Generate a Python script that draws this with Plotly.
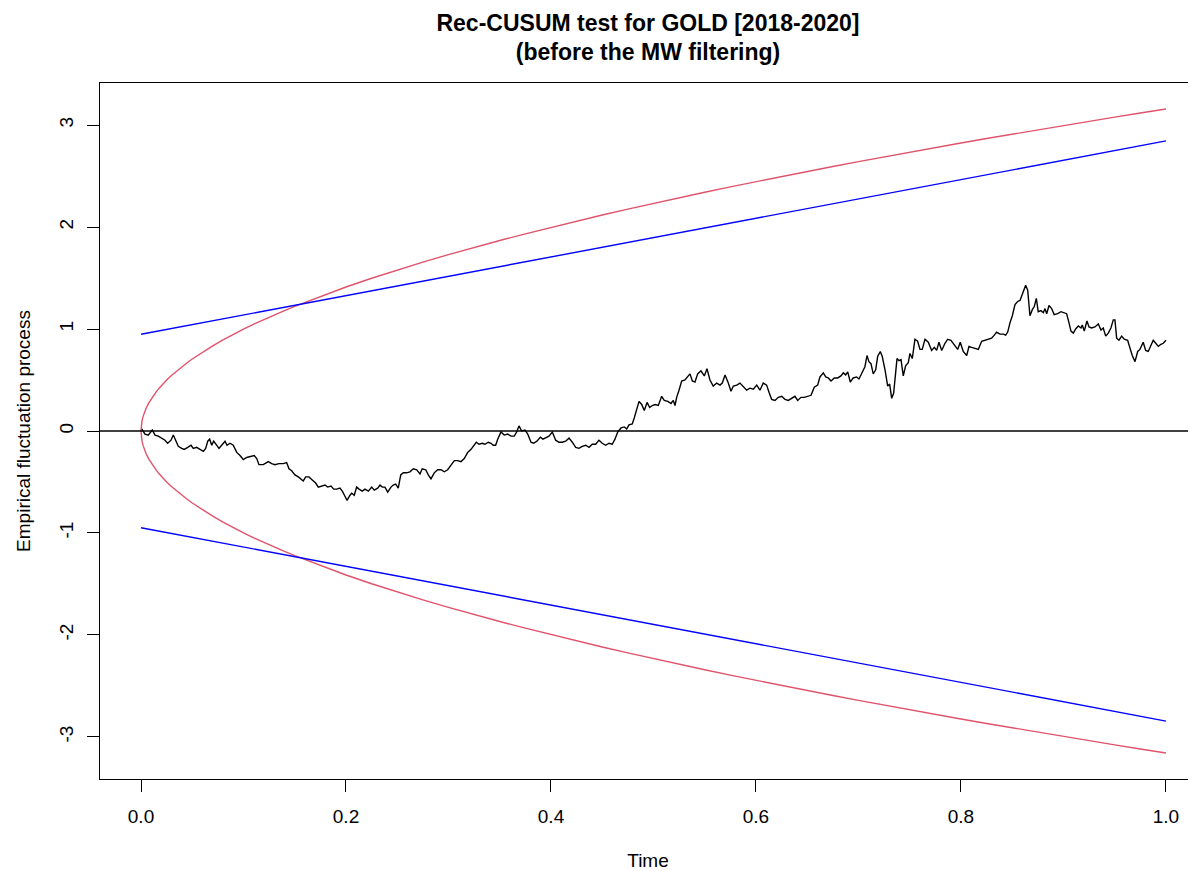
import plotly.graph_objects as go

# ---- data ----
time_pts = [0.0, 0.0007, 0.0039, 0.0071, 0.0110, 0.0137, 0.0169, 0.0202, 0.0234, 0.0260, 0.0293,
            0.0315, 0.0339, 0.0364, 0.0397, 0.0422, 0.0456, 0.0488, 0.0510, 0.0543, 0.0576,
            0.0608, 0.0631, 0.0651, 0.0670, 0.0690, 0.0709, 0.0735, 0.0761, 0.0787, 0.0820,
            0.0839, 0.0868, 0.0900, 0.0934, 0.0966, 0.0998, 0.1031, 0.1063, 0.1105, 0.1129,
            0.1151, 0.1193, 0.1242, 0.1275, 0.1307, 0.1346, 0.1388, 0.1421, 0.1444, 0.1470,
            0.1502, 0.1535, 0.1561, 0.1583, 0.1607,
            0.1639, 0.1671, 0.1704, 0.1730, 0.1763, 0.1795, 0.1821, 0.1854, 0.1880, 0.1909,
            0.1941, 0.1964, 0.1990, 0.2010, 0.2039, 0.2056, 0.2081, 0.2104, 0.2127, 0.2159,
            0.2185, 0.2218, 0.2251, 0.2276, 0.2309, 0.2332, 0.2354, 0.2380, 0.2407, 0.2439,
            0.2461, 0.2485, 0.2510, 0.2534, 0.2559, 0.2592, 0.2624, 0.2657, 0.2690, 0.2722,
            0.2744, 0.2778, 0.2803, 0.2829, 0.2861, 0.2895, 0.2927, 0.2959, 0.2992, 0.3024,
            0.3057, 0.3090, 0.3122, 0.3154, 0.3187, 0.3220, 0.3246, 0.3271, 0.3298, 0.3330,
            0.3356,
            0.3388, 0.3415, 0.3437, 0.3460, 0.3480, 0.3512, 0.3544, 0.3578, 0.3610, 0.3642,
            0.3665, 0.3688, 0.3714, 0.3746, 0.3773, 0.3805, 0.3831, 0.3863, 0.3896, 0.3922,
            0.3948, 0.3980, 0.4013, 0.4046, 0.4078, 0.4110, 0.4143, 0.4176, 0.4208, 0.4241,
            0.4273, 0.4305, 0.4339, 0.4371, 0.4403, 0.4436, 0.4468, 0.4500, 0.4534, 0.4566,
            0.4598, 0.4624, 0.4651, 0.4683, 0.4715, 0.4739, 0.4761, 0.4793, 0.4813, 0.4836,
            0.4859, 0.4885, 0.4910, 0.4937, 0.4963, 0.4988, 0.5015,
            0.5047, 0.5080, 0.5105, 0.5139, 0.5171, 0.5193, 0.5210, 0.5226, 0.5249, 0.5275,
            0.5307, 0.5334, 0.5356, 0.5379, 0.5405, 0.5431, 0.5463, 0.5496, 0.5522, 0.5551,
            0.5583, 0.5617, 0.5649, 0.5671, 0.5698, 0.5730, 0.5756, 0.5779, 0.5812, 0.5844,
            0.5876, 0.5909, 0.5941, 0.5974, 0.6007, 0.6039, 0.6071, 0.6104, 0.6127, 0.6153,
            0.6185, 0.6218, 0.6251, 0.6283, 0.6315, 0.6348, 0.6380, 0.6407, 0.6439, 0.6471,
            0.6504, 0.6537, 0.6569,
            0.6602, 0.6624, 0.6657, 0.6680, 0.6705, 0.6732, 0.6764, 0.6797, 0.6829, 0.6852,
            0.6875, 0.6895, 0.6920, 0.6949, 0.6982, 0.7005, 0.7037, 0.7063, 0.7083, 0.7102,
            0.7122, 0.7144, 0.7168, 0.7187, 0.7213, 0.7232, 0.7259, 0.7285, 0.7304, 0.7324,
            0.7343, 0.7363, 0.7376, 0.7395, 0.7415, 0.7437, 0.7460, 0.7486, 0.7502, 0.7525,
            0.7551, 0.7577, 0.7600, 0.7622, 0.7649, 0.7681, 0.7714, 0.7740, 0.7763, 0.7785,
            0.7812, 0.7844, 0.7870, 0.7902, 0.7935, 0.7968, 0.7993, 0.8022, 0.8056, 0.8078,
            0.8104, 0.8137, 0.8169, 0.8202,
            0.8234, 0.8266, 0.8299, 0.8325, 0.8348, 0.8380, 0.8413, 0.8436, 0.8456, 0.8478,
            0.8501, 0.8527, 0.8553, 0.8576, 0.8592, 0.8612, 0.8631, 0.8651, 0.8673, 0.8696,
            0.8715, 0.8735, 0.8754, 0.8780, 0.8803, 0.8820, 0.8836, 0.8859, 0.8885, 0.8910,
            0.8943, 0.8976, 0.9008, 0.9031, 0.9054, 0.9073, 0.9096, 0.9119, 0.9145, 0.9171,
            0.9183, 0.9203, 0.9229, 0.9249, 0.9275, 0.9307, 0.9340, 0.9366, 0.9388, 0.9412,
            0.9437, 0.9463, 0.9486, 0.9502, 0.9519, 0.9541, 0.9568, 0.9593, 0.9626, 0.9649,
            0.9671, 0.9698, 0.9724, 0.9746, 0.9778, 0.9802, 0.9827, 0.9854, 0.9876, 0.9900,
            0.9925, 0.9951, 0.9974, 1.0]

process = [0.00, 0.02, -0.03, -0.04, 0.01, -0.04, -0.05, -0.07, -0.09, -0.12, -0.09,
           -0.04, -0.10, -0.15, -0.17, -0.18, -0.16, -0.14, -0.17, -0.16, -0.18,
           -0.20, -0.17, -0.10, -0.08, -0.14, -0.10, -0.14, -0.17, -0.14, -0.10,
           -0.14, -0.12, -0.14, -0.21, -0.24, -0.28, -0.26, -0.25, -0.24, -0.27,
           -0.33, -0.33, -0.30, -0.32, -0.33, -0.32, -0.32, -0.31, -0.37, -0.39,
           -0.43, -0.45, -0.47, -0.49, -0.45,
           -0.45, -0.48, -0.51, -0.55, -0.54, -0.53, -0.55, -0.54, -0.57, -0.57,
           -0.56, -0.59, -0.64, -0.68, -0.63, -0.61, -0.63, -0.55, -0.57, -0.59,
           -0.57, -0.59, -0.55, -0.58, -0.56, -0.53, -0.55, -0.55, -0.60, -0.55,
           -0.53, -0.52, -0.56, -0.43, -0.41, -0.41, -0.40, -0.37, -0.38, -0.42,
           -0.37, -0.38, -0.43, -0.47, -0.41, -0.38, -0.38, -0.40, -0.38, -0.33,
           -0.29, -0.29, -0.30, -0.27, -0.21, -0.18, -0.15, -0.11, -0.13, -0.12,
           -0.13,
           -0.11, -0.12, -0.14, -0.14, -0.08, -0.01, -0.04, -0.03, -0.05, -0.05,
           -0.01, 0.05, 0.00, 0.01, -0.03, -0.11, -0.12, -0.10, -0.06, -0.08,
           -0.07, -0.05, -0.01, -0.09, -0.11, -0.11, -0.10, -0.07, -0.11, -0.16,
           -0.17, -0.15, -0.14, -0.16, -0.13, -0.13, -0.09, -0.12, -0.14, -0.12,
           -0.13, -0.08, -0.01, 0.03, 0.04, 0.02, 0.06, 0.07, 0.13, 0.22,
           0.29, 0.26, 0.20, 0.28, 0.23, 0.25, 0.26,
           0.25, 0.34, 0.30, 0.29, 0.27, 0.30, 0.25, 0.33, 0.40, 0.49,
           0.50, 0.53, 0.56, 0.49, 0.48, 0.56, 0.59, 0.54, 0.61, 0.50,
           0.44, 0.47, 0.45, 0.47, 0.55, 0.47, 0.39, 0.44, 0.45, 0.47,
           0.43, 0.40, 0.42, 0.41, 0.45, 0.40, 0.47, 0.45, 0.38, 0.31,
           0.30, 0.33, 0.34, 0.31, 0.30, 0.32, 0.34, 0.30, 0.33, 0.33,
           0.34, 0.35, 0.43,
           0.45, 0.53, 0.57, 0.53, 0.52, 0.49, 0.52, 0.52, 0.54, 0.57,
           0.55, 0.58, 0.48, 0.52, 0.53, 0.51, 0.58, 0.63, 0.74, 0.68,
           0.66, 0.56, 0.60, 0.73, 0.78, 0.73, 0.60, 0.44, 0.46, 0.32,
           0.37, 0.60, 0.71, 0.69, 0.70, 0.54, 0.64, 0.67, 0.76, 0.71,
           0.90, 0.88, 0.80, 0.80, 0.90, 0.87, 0.79, 0.82, 0.79, 0.87,
           0.79, 0.86, 0.90, 0.89, 0.84, 0.80, 0.87, 0.78, 0.74, 0.83,
           0.82, 0.81, 0.80, 0.88,
           0.89, 0.90, 0.91, 0.94, 0.97, 0.95, 0.95, 0.94, 0.97, 1.06,
           1.13, 1.24, 1.27, 1.28, 1.32, 1.38, 1.43, 1.38, 1.13, 1.19,
           1.22, 1.30, 1.17, 1.18, 1.16, 1.20, 1.15, 1.23, 1.20, 1.14,
           1.15, 1.17, 1.16, 1.15, 1.06, 0.98, 0.96, 1.00, 1.03, 1.01,
           1.04, 0.98, 1.08, 1.02, 1.01, 1.02, 1.05, 0.99, 1.01, 0.93,
           0.96, 1.01, 1.09, 1.09, 0.91, 0.89, 0.93, 0.90, 0.89, 0.81,
           0.74, 0.68, 0.78, 0.80, 0.87, 0.79, 0.78, 0.84, 0.89, 0.86,
           0.83, 0.85, 0.86, 0.89]

# red (curved) boundary, upper half
red_t = [0.0, 0.0001, 0.0002, 0.0005, 0.001, 0.002, 0.003, 0.004, 0.005, 0.0075, 0.01,
         0.0125, 0.015, 0.0175, 0.02, 0.025, 0.03, 0.035, 0.04, 0.045, 0.05, 0.06, 0.07,
         0.08, 0.09, 0.1, 0.11, 0.12, 0.13, 0.14, 0.15, 0.175, 0.2, 0.225, 0.25, 0.275,
         0.3, 0.325, 0.35, 0.375, 0.4, 0.425, 0.45, 0.475, 0.5, 0.525, 0.55, 0.575, 0.6,
         0.625, 0.65, 0.675, 0.7, 0.725, 0.75, 0.775, 0.8, 0.825, 0.85, 0.875, 0.9,
         0.925, 0.95, 0.975, 1.0]
red_upper = [0.0, 0.0316, 0.0446, 0.0706, 0.0998, 0.1412, 0.1729, 0.1997, 0.2232, 0.2734, 0.3157,
             0.3530, 0.3866, 0.4176, 0.4465, 0.4992, 0.5468, 0.5906, 0.6314, 0.6697, 0.7059, 0.7733, 0.8353,
             0.8929, 0.9471, 0.9983, 1.0471, 1.0936, 1.1383, 1.1812, 1.2227, 1.3207, 1.4118, 1.4975, 1.5785, 1.6555,
             1.7292, 1.7998, 1.8677, 1.9333, 1.9967, 2.0581, 2.1178, 2.1758, 2.2323, 2.2875, 2.3413, 2.3939, 2.4454,
             2.4958, 2.5453, 2.5937, 2.6413, 2.6881, 2.7340, 2.7792, 2.8237, 2.8675, 2.9106, 2.9531, 2.9950,
             3.0363, 3.0771, 3.1173, 3.1570]
red_lower = [-v for v in red_upper]

# blue (linear) boundary
blue_t = [0.0, 1.0]
blue_upper = [0.948, 2.844]
blue_lower = [-0.948, -2.844]

x_ticks = [0.0, 0.2, 0.4, 0.6, 0.8, 1.0]
x_tick_labels = ["0.0", "0.2", "0.4", "0.6", "0.8", "1.0"]
y_ticks = [-3, -2, -1, 0, 1, 2, 3]
y_tick_labels = ["-3", "-2", "-1", "0", "1", "2", "3"]

FONT = "Liberation Sans, Arial, Helvetica, sans-serif"
RED = "#DF536B"
BLUE = "#0000FF"

fig = go.Figure()
fig.add_trace(go.Scatter(x=time_pts, y=process, mode="lines",
                         line=dict(color="black", width=1.4), showlegend=False))
fig.add_trace(go.Scatter(x=red_t, y=red_upper, mode="lines",
                         line=dict(color=RED, width=1.4), showlegend=False))
fig.add_trace(go.Scatter(x=red_t, y=red_lower, mode="lines",
                         line=dict(color=RED, width=1.4), showlegend=False))
fig.add_trace(go.Scatter(x=blue_t, y=blue_upper, mode="lines",
                         line=dict(color=BLUE, width=1.4), showlegend=False))
fig.add_trace(go.Scatter(x=blue_t, y=blue_lower, mode="lines",
                         line=dict(color=BLUE, width=1.4), showlegend=False))

# horizontal reference line at 0 across the whole panel
fig.add_hline(y=0, line=dict(color="black", width=1.4))

# the page body adds an 8px offset, so the figure is sized/positioned to compensate
W, H = 1188, 863
fig.update_layout(
    width=W, height=H,
    margin=dict(l=92, r=0, t=75, b=92, autoexpand=False),
    paper_bgcolor="white", plot_bgcolor="white",
    font=dict(family=FONT, size=19, color="black"),
    title=dict(text="<b>Rec-CUSUM test for GOLD [2018-2020]<br>(before the MW filtering)</b>",
               x=0.5, xanchor="center", xref="paper",
               y=1 - 22.5 / H, yref="container", yanchor="middle",
               font=dict(family=FONT, size=23, color="black")),
    xaxis=dict(range=[-0.04, 1.0293], tickmode="array", tickvals=x_ticks, ticktext=x_tick_labels,
               showgrid=False, zeroline=False, showline=True, mirror=True, linecolor="black",
               linewidth=1, ticks="outside", ticklen=12, tickwidth=1, tickcolor="black",
               ticklabelstandoff=8,
               title=dict(text="Time", standoff=31, font=dict(size=19))),
    yaxis=dict(range=[-3.412, 3.412], tickmode="array", tickvals=y_ticks, ticktext=y_tick_labels,
               showgrid=False, zeroline=False, showline=True, mirror=False, linecolor="black",
               linewidth=1, ticks="outside", ticklen=12, tickwidth=1, tickcolor="black",
               tickangle=-90, ticklabelstandoff=6,
               title=dict(text="Empirical fluctuation process", standoff=20, font=dict(size=19))),
)

fig.write_html("out.html")
